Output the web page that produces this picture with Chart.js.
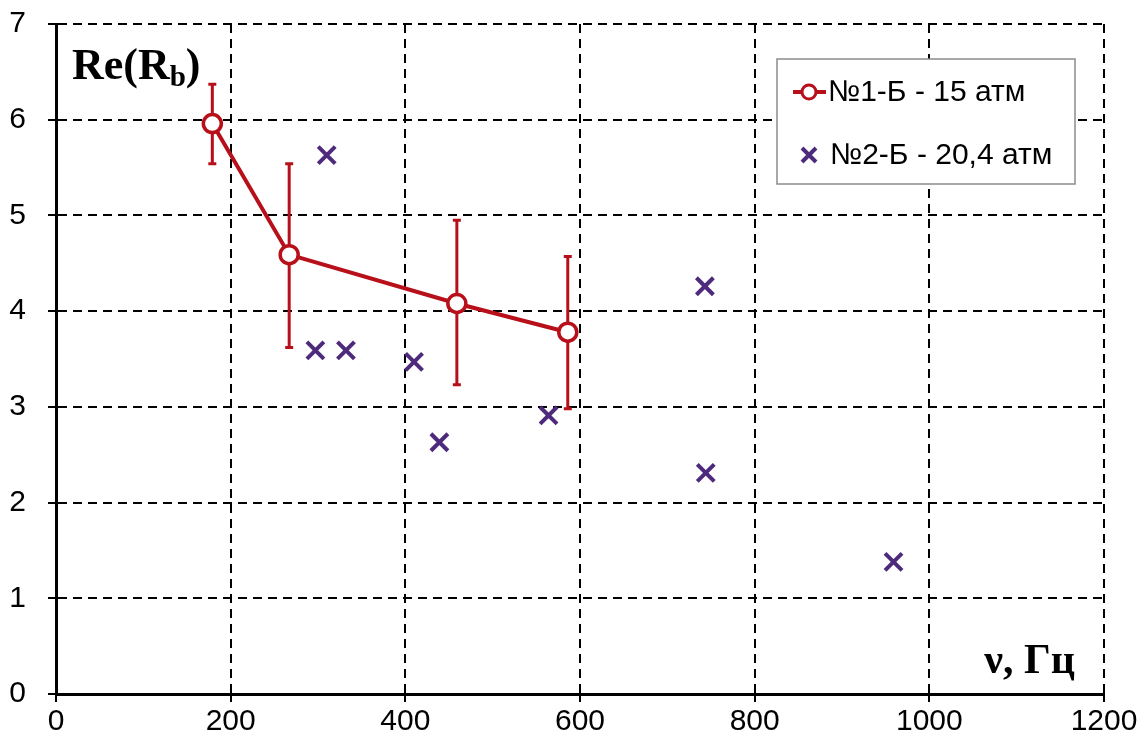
<!DOCTYPE html>
<html>
<head>
<meta charset="utf-8">
<script src="https://cdn.jsdelivr.net/npm/chart.js@4"></script>
<style>
  html, body { margin: 0; padding: 0; background: #fff; }
  #wrap { width: 1147px; height: 749px; }
</style>
</head>
<body>
<div id="wrap"><canvas id="chart"></canvas></div>
<script>
// series 1 (with error bars)
const freq1 = [179, 267, 459, 586];
const re1 = [5.96, 4.59, 4.08, 3.78];
const errLow1 = [5.54, 3.62, 3.23, 2.98];
const errHigh1 = [6.37, 5.54, 4.95, 4.57];
// series 2
const freq2 = [310, 297, 332, 410, 439, 564, 743, 744, 959];
const re2 = [5.63, 3.59, 3.59, 3.47, 2.63, 2.91, 4.26, 2.31, 1.38];

const xTicks = [0, 200, 400, 600, 800, 1000, 1200];
const yTicks = [0, 1, 2, 3, 4, 5, 6, 7];
const seriesNames = ["№1-Б - 15 атм", "№2-Б - 20,4 атм"];

const RED = "#b8101a";
const PURPLE = "#4e2a7c";

const ctx = document.getElementById("chart");

const errorBars = {
  id: "errorBars",
  beforeDatasetsDraw(chart) {
    const c = chart.ctx;
    const xs = chart.scales.x, ys = chart.scales.y;
    c.save();
    c.strokeStyle = RED;
    c.lineWidth = 3;
    for (let i = 0; i < freq1.length; i++) {
      const px = xs.getPixelForValue(freq1[i]);
      const top = ys.getPixelForValue(errHigh1[i]);
      const bot = ys.getPixelForValue(errLow1[i]);
      c.beginPath();
      c.moveTo(px, top); c.lineTo(px, bot);
      c.moveTo(px - 4, top); c.lineTo(px + 4, top);
      c.moveTo(px - 4, bot); c.lineTo(px + 4, bot);
      c.stroke();
    }
    c.restore();
  }
};

const extras = {
  id: "extras",
  afterDraw(chart) {
    const c = chart.ctx;
    c.save();
    // axis titles
    c.fillStyle = "#000";
    c.textBaseline = "alphabetic";
    c.font = "bold 44px 'Liberation Serif', 'Times New Roman', serif";
    c.fillText("Re(R", 72, 79);
    let w = c.measureText("Re(R").width;
    c.font = "bold 29px 'Liberation Serif', 'Times New Roman', serif";
    c.fillText("b", 72 + w, 86);
    let wb = c.measureText("b").width;
    c.font = "bold 44px 'Liberation Serif', 'Times New Roman', serif";
    c.fillText(")", 72 + w + wb, 79);

    c.font = "bold 42px 'Liberation Serif', 'Times New Roman', serif";
    c.textAlign = "right";
    c.fillText("ν, Гц", 1075, 673);

    // legend box
    c.textAlign = "left";
    c.fillStyle = "#fff";
    c.fillRect(777, 59, 298, 125);
    c.strokeStyle = "#8c8c8c";
    c.lineWidth = 1.5;
    c.strokeRect(777, 59, 298, 125);

    // entry 1
    c.strokeStyle = RED;
    c.lineWidth = 4;
    c.beginPath(); c.moveTo(793, 92); c.lineTo(826, 92); c.stroke();
    c.beginPath(); c.arc(809, 92, 7, 0, Math.PI * 2);
    c.fillStyle = "#fff"; c.fill();
    c.lineWidth = 3; c.stroke();
    // entry 2
    c.strokeStyle = PURPLE;
    c.lineWidth = 4;
    c.beginPath();
    c.moveTo(802, 148); c.lineTo(816, 162);
    c.moveTo(816, 148); c.lineTo(802, 162);
    c.stroke();

    c.fillStyle = "#000";
    c.font = "30px 'Liberation Sans', Arial, sans-serif";
    c.textBaseline = "middle";
    c.fillText(seriesNames[0], 828, 93);
    c.fillText(seriesNames[1], 830, 156);
    c.restore();
  }
};

const gridOpts = {
  color: "#000",
  lineWidth: 2,
  tickLength: 8,
  tickColor: "#000",
  tickWidth: 2,
  tickBorderDash: []
};
const borderOpts = { display: true, color: "#000", width: 3, dash: [9, 6] };
const tickFont = { family: "'Liberation Sans', Arial, sans-serif", size: 30 };

new Chart(ctx, {
  type: "scatter",
  data: {
    datasets: [
      {
        label: seriesNames[0],
        data: freq1.map((x, i) => ({ x: x, y: re1[i] })),
        showLine: true,
        borderColor: RED,
        borderWidth: 4,
        pointStyle: "circle",
        pointRadius: 9,
        pointBorderWidth: 3.5,
        pointBackgroundColor: "#fff",
        pointBorderColor: RED,
        order: 1
      },
      {
        label: seriesNames[1],
        data: freq2.map((x, i) => ({ x: x, y: re2[i] })),
        showLine: false,
        pointStyle: "crossRot",
        pointRadius: 12,
        pointBorderWidth: 4,
        pointBorderColor: PURPLE,
        borderColor: PURPLE,
        order: 2
      }
    ]
  },
  options: {
    responsive: true,
    maintainAspectRatio: false,
    animation: false,
    layout: { padding: { top: 24, right: 43, left: 0, bottom: 0 } },
    plugins: {
      legend: { display: false },
      tooltip: { enabled: false }
    },
    scales: {
      x: {
        type: "linear",
        min: 0,
        max: 1200,
        afterBuildTicks: (s) => { s.ticks = xTicks.map(v => ({ value: v })); },
        afterFit: (s) => { s.height = 55; s.paddingLeft = 0; s.paddingRight = 0; },
        grid: gridOpts,
        border: borderOpts,
        ticks: { color: "#000", font: tickFont, padding: 2, maxRotation: 0, callback: (v) => String(v) }
      },
      y: {
        type: "linear",
        min: 0,
        max: 7,
        afterBuildTicks: (s) => { s.ticks = yTicks.map(v => ({ value: v })); },
        afterFit: (s) => { s.width = 56; s.paddingTop = 0; s.paddingBottom = 0; },
        grid: gridOpts,
        border: borderOpts,
        ticks: { color: "#000", font: tickFont, padding: 22, callback: (v) => String(v) }
      }
    }
  },
  plugins: [errorBars, extras]
});
</script>
</body>
</html>
